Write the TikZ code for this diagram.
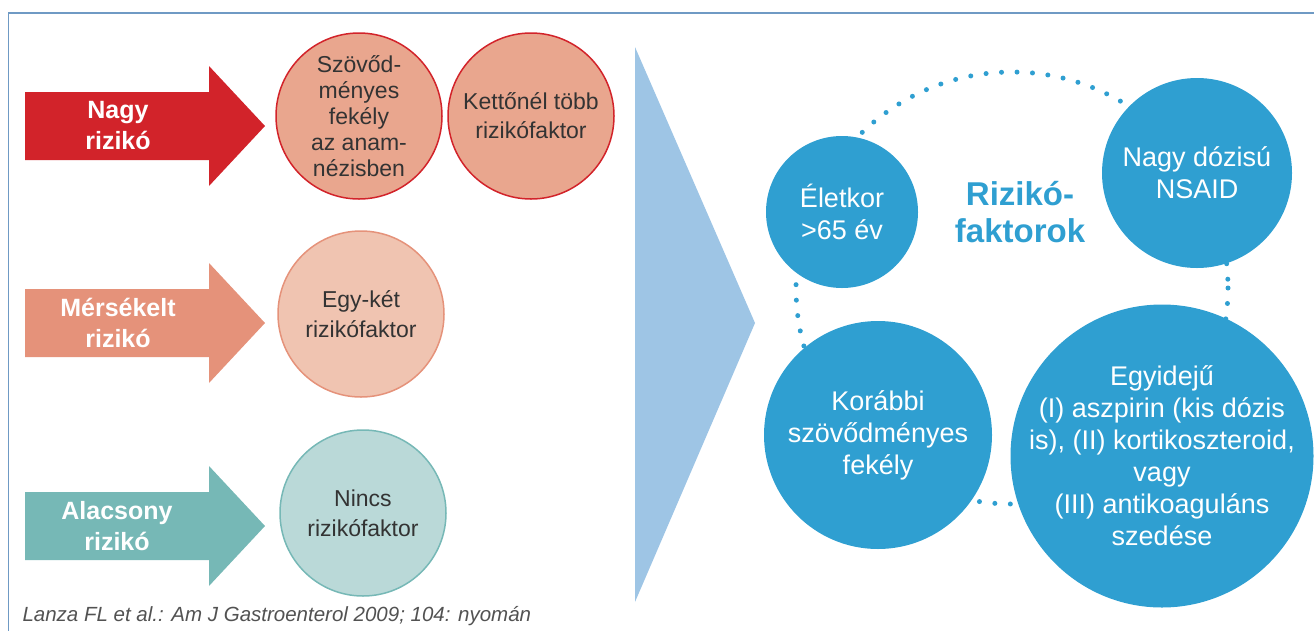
\documentclass[tikz,border=0pt]{standalone}
\usepackage{fontspec}
\setmainfont{Liberation Sans}
\usepackage{tikz}
\usetikzlibrary{positioning}

\definecolor{framecol}{HTML}{6F9AC4}
\definecolor{nagyred}{HTML}{D2232A}
\definecolor{nagyfill}{HTML}{E9A68E}
\definecolor{kozepes}{HTML}{E5927A}
\definecolor{kozepfill}{HTML}{F0C4B1}
\definecolor{alacsony}{HTML}{76B8B6}
\definecolor{alacsfill}{HTML}{BAD9D8}
\definecolor{kekblue}{HTML}{2F9FD1}
\definecolor{chevron}{HTML}{9EC5E5}
\definecolor{darktext}{HTML}{333333}

% one wide arrow, #1 = middle y, #2 = colour
\newcommand{\riskarrow}[2]{%
  \fill[#2] (25,#1-34) -- (209,#1-34) -- (209,#1-60) -- (265,#1)
    -- (209,#1+60) -- (209,#1+34) -- (25,#1+34) -- cycle;}

\begin{document}
\begin{tikzpicture}[x=1pt,y=-1pt,
    riskcircle/.style={circle,line width=1.5pt,minimum size=166pt,inner sep=0pt,
      align=center,text=darktext,font=\fontsize{23}{26}\selectfont},
    bluecircle/.style={circle,fill=kekblue,text=white,inner sep=-30pt,
      align=center,font=\fontsize{27}{32}\selectfont},
    arrowlabel/.style={text=white,align=center,font=\fontsize{25}{31}\selectfont\bfseries}]
  \useasboundingbox (0,0) rectangle (1314,630);
  \draw[framecol,line width=1.5pt] (1320,13) -- (8.5,13) -- (8.5,640);

  % left column
  \riskarrow{126}{nagyred}
  \riskarrow{323}{kozepes}
  \riskarrow{526}{alacsony}
  \node[arrowlabel] (nagy) at (118,126) {Nagy\\rizikó};
  \node[arrowlabel] (merseklt) at (118,323) {Mérsékelt\\rizikó};
  \node[arrowlabel] (alacs) at (117,526) {Alacsony\\rizikó};

  \node[riskcircle,draw=nagyred,fill=nagyfill] (szovod) at (359,116)
    {Szövőd-\\ményes\\fekély\\az anam-\\nézisben};
  \node[riskcircle,draw=nagyred,fill=nagyfill,font=\fontsize{23}{29}\selectfont] (ketto) at (531,116)
    {Kettőnél több\\rizikófaktor};
  \node[riskcircle,draw=kozepes,fill=kozepfill,font=\fontsize{23}{30}\selectfont] (egyket) at (361,314)
    {Egy-két\\rizikófaktor};
  \node[riskcircle,draw=alacsony,fill=alacsfill,font=\fontsize{23}{30}\selectfont] (nincs) at (363,513)
    {Nincs\\rizikófaktor};

  \node[anchor=west,text=darktext!85,font=\fontsize{20.5}{24}\selectfont\itshape] (forras) at (19,616)
    {Lanza FL et al.: Am J Gastroenterol 2009; 104: nyomán};

  % chevron
  \fill[chevron] (635,47) -- (755,323) -- (635,602) -- cycle;

  % right side
  \draw[kekblue,line width=5pt,line cap=round,dash pattern=on 0pt off 15.5pt] (1012,288) circle (216);
  \node[bluecircle,minimum size=152pt] (eletkor) at (842,212) {Életkor\\>65 év};
  \node[bluecircle,minimum size=190pt] (nsaid) at (1197,173) {Nagy dózisú\\NSAID};
  \node[bluecircle,minimum size=228pt] (korabbi) at (878,435) {Korábbi\\szövődményes\\fekély};
  \node[bluecircle,minimum size=303pt] (egyideju) at (1162,456)
    {Egyidejű\\(I) aszpirin (kis dózis\\is), (II) kortikoszteroid,\\vagy\\(III) antikoaguláns\\szedése};
  \node[text=kekblue,align=center,font=\fontsize{33}{37}\selectfont\bfseries] (rizfakt) at (1020,212)
    {Rizikó-\\faktorok};
\end{tikzpicture}
\end{document}
